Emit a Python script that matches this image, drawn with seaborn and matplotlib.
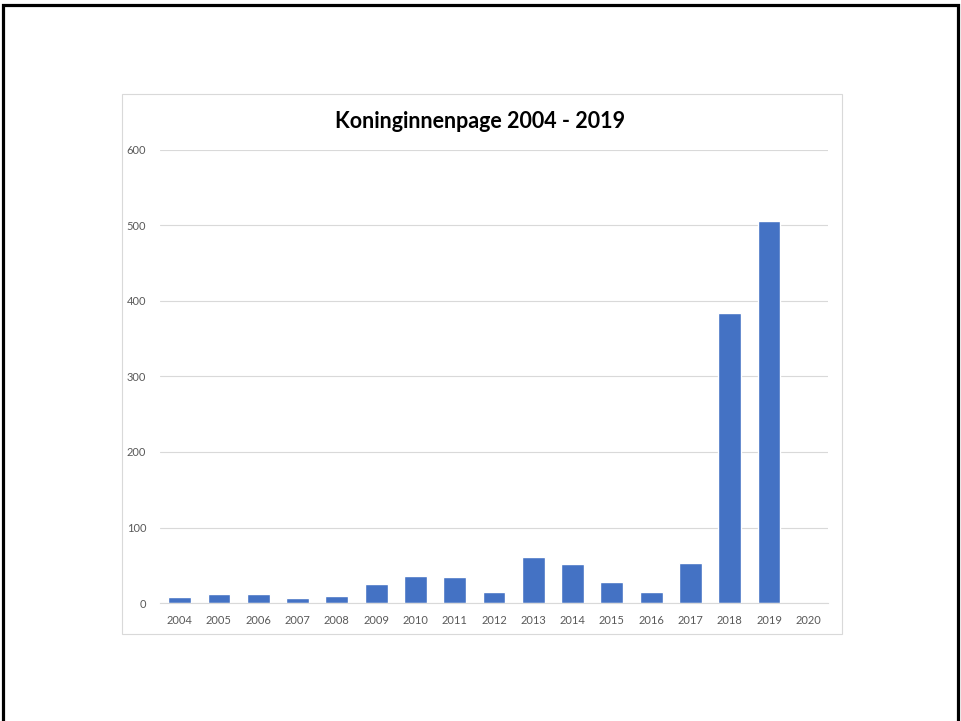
import matplotlib
matplotlib.use('Agg')
import pandas as pd
import matplotlib.pyplot as plt
import seaborn as sns
from matplotlib.patches import Rectangle

years = ['2004', '2005', '2006', '2007', '2008', '2009', '2010', '2011', '2012',
         '2013', '2014', '2015', '2016', '2017', '2018', '2019', '2020']
counts = [8, 12, 12, 6, 9, 25, 36, 35, 14, 61, 52, 28, 15, 53, 384, 506, 0]
yticks = [0, 100, 200, 300, 400, 500, 600]

if __name__ == "__main__":
    sns.set_style('white')
    plt.rcParams['font.family'] = ['Lato', 'DejaVu Sans']

    df = pd.DataFrame({'year': years, 'count': counts})

    fig = plt.figure(figsize=(9.61, 7.21), dpi=100)

    # slide frame and chart box
    fig.patches.append(Rectangle((2.5 / 961, -0.05), 955 / 961, 1.05 - 5.5 / 721,
                                 transform=fig.transFigure, fill=False,
                                 edgecolor='black', linewidth=2.3))
    fig.patches.append(Rectangle((122 / 961, 1 - 634 / 721), 720 / 961, 540 / 721,
                                 transform=fig.transFigure, fill=False,
                                 edgecolor='#d9d9d9', linewidth=0.8))

    ax = fig.add_axes([160 / 961, 1 - 603 / 721, 668 / 961, 453 / 721])
    sns.barplot(data=df, x='year', y='count', color='#4472C4', saturation=1,
                width=0.58, ax=ax)

    ax.set_ylim(0, 600)
    ax.set_yticks(yticks)
    ax.yaxis.grid(True, color='#d9d9d9', linewidth=0.8)
    ax.set_axisbelow(True)
    for s in ['left', 'right', 'top']:
        ax.spines[s].set_visible(False)
    ax.spines['bottom'].set_color('#d9d9d9')
    ax.spines['bottom'].set_linewidth(0.8)
    ax.tick_params(axis='both', length=0, labelsize=8, labelcolor='#595959')
    ax.tick_params(axis='x', pad=9)
    ax.tick_params(axis='y', pad=10)
    ax.set_xlabel('')
    ax.set_ylabel('')

    fig.text(480 / 961, 1 - 121 / 721, 'Koninginnenpage 2004 - 2019', ha='center',
             va='center', fontsize=15.5, fontweight='bold', color='black')

    fig.savefig('out.png', dpi=100)
